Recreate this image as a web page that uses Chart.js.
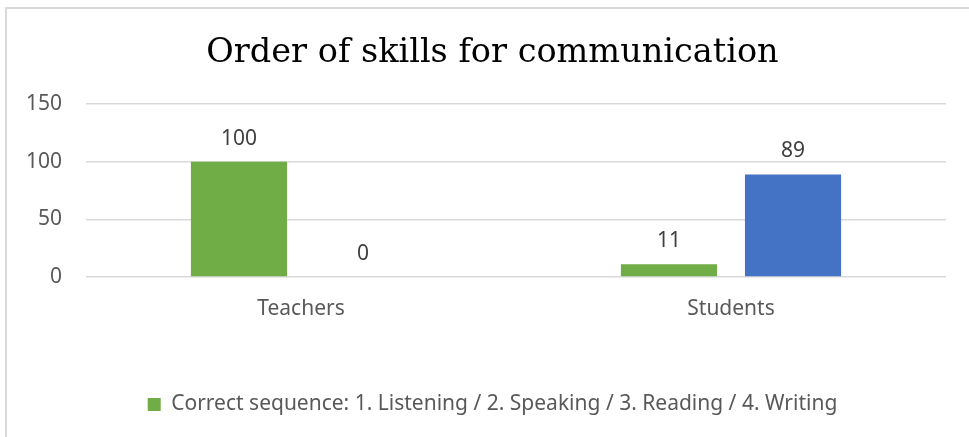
<!DOCTYPE html>
<html>
<head>
<meta charset="utf-8">
<script src="https://cdn.jsdelivr.net/npm/chart.js@4.4.0/dist/chart.umd.min.js"></script>
<style>
  body { margin: 0; background: #fff; }
  .frame {
    position: absolute; left: 5px; top: 7px; width: 1000px; height: 500px;
    border-left: 2px solid #d9d9d9; border-top: 2px solid #d9d9d9;
  }
  #chart { position: absolute; left: 0; top: 0; }
</style>
</head>
<body>
<div class="frame"></div>
<canvas id="chart" width="969" height="437"></canvas>
<script>
const groups = ["Teachers", "Students"];
const correctSeq = [100, 11];
const otherSeq = [0, 89];

const labelFont = "'Noto Sans', sans-serif";

// draws the value above each bar
const valueLabels = {
  id: "valueLabels",
  afterDatasetsDraw(chart) {
    const c = chart.ctx;
    c.save();
    c.font = "21px " + labelFont;
    c.fillStyle = "#404040";
    c.textAlign = "center";
    c.textBaseline = "middle";
    chart.data.datasets.forEach((ds, i) => {
      chart.getDatasetMeta(i).data.forEach((bar, j) => {
        c.fillText(ds.data[j], bar.x, bar.y - 23);
      });
    });
    c.restore();
  },
};

let ctx = document.getElementById("chart").getContext("2d");

new Chart(ctx, {
  type: "bar",
  data: {
    labels: groups,
    datasets: [
      {
        label: "Correct sequence: 1. Listening / 2. Speaking / 3. Reading / 4. Writing",
        data: correctSeq,
        backgroundColor: "#70ad47",
      },
      {
        label: "Other sequence",
        data: otherSeq,
        backgroundColor: "#4472c4",
      },
    ],
  },
  options: {
    responsive: false,
    animation: false,
    categoryPercentage: 0.577,
    barPercentage: 0.775,
    layout: { padding: { left: 16, right: 0, top: 0, bottom: 12 } },
    plugins: {
      title: {
        display: true,
        text: "Order of skills for communication",
        color: "#000",
        font: { family: "'DejaVu Serif', serif", size: 33.5, weight: "normal" },
        padding: { top: 33, bottom: 31 },
      },
      legend: {
        position: "bottom",
        labels: {
          filter: (item) => item.datasetIndex === 0,
          boxWidth: 13,
          boxHeight: 13,
          padding: 10,
          color: "#595959",
          font: { family: labelFont, size: 21 },
        },
      },
      tooltip: { enabled: false },
    },
    scales: {
      x: {
        grid: { display: false, drawTicks: false },
        border: { display: false },
        ticks: { color: "#595959", padding: 19, font: { family: labelFont, size: 21 } },
        afterFit: (scale) => { scale.height = 107; },
      },
      y: {
        min: 0,
        max: 150,
        grid: { color: "#d9d9d9", lineWidth: 1.5, drawTicks: false },
        border: { display: false },
        ticks: {
          stepSize: 50,
          color: "#595959",
          padding: 24,
          font: { family: labelFont, size: 21 },
        },
        afterFit: (scale) => { scale.width = 70; },
      },
      // empty right axis, only keeps the right margin
      y2: {
        position: "right",
        grid: { display: false },
        border: { display: false },
        ticks: { display: false },
        afterFit: (scale) => { scale.width = 23; },
      },
    },
  },
  plugins: [valueLabels],
});
</script>
</body>
</html>
